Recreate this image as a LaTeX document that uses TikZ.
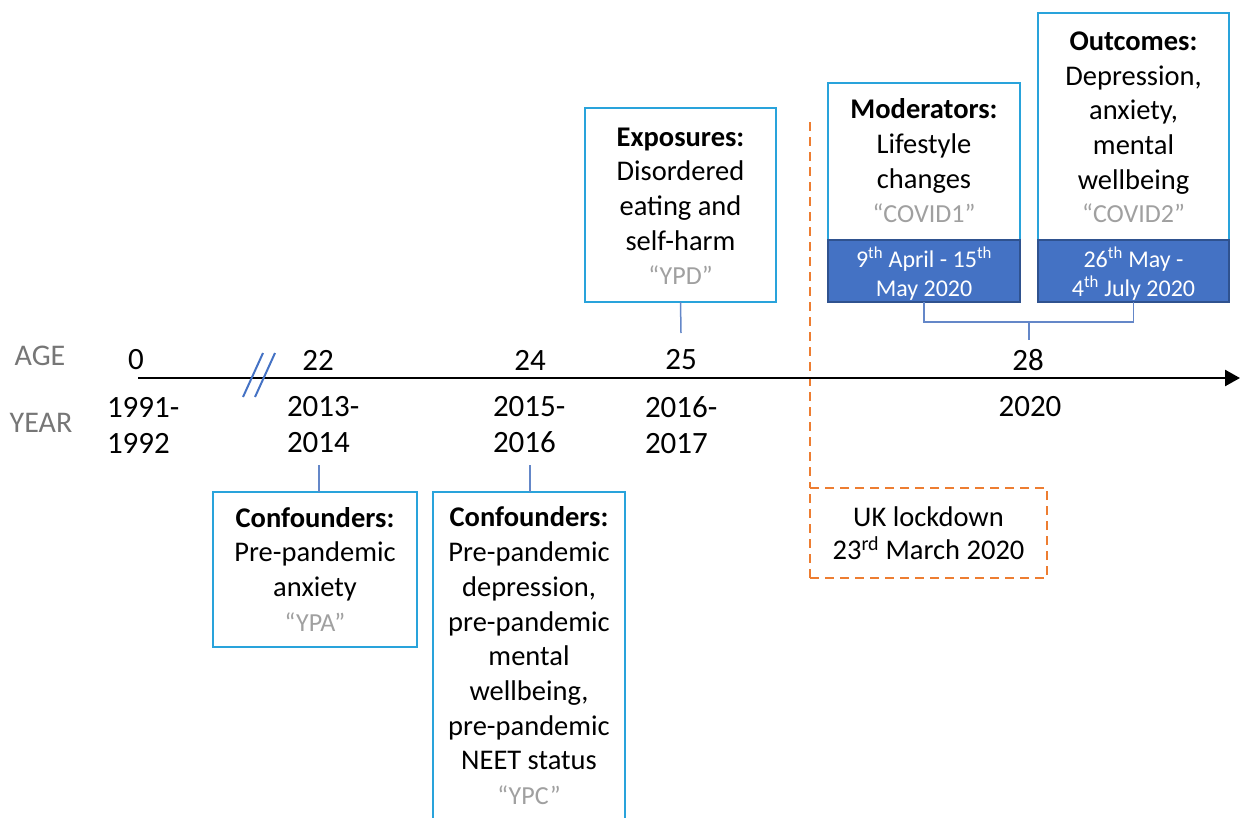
\documentclass[tikz,border=0pt]{standalone}
\usepackage{fontspec}
\setmainfont{Carlito}
\usetikzlibrary{arrows.meta}
\definecolor{boxblue}{RGB}{41,163,219}
\definecolor{connblue}{RGB}{100,135,200}
\definecolor{bandblue}{RGB}{68,114,196}
\definecolor{bandedge}{RGB}{47,82,143}
\definecolor{lockorange}{RGB}{237,125,49}
\definecolor{axislabel}{RGB}{118,118,118}
\definecolor{codegray}{RGB}{160,160,160}
\definecolor{slashblue}{RGB}{68,114,196}
\begin{document}
\begin{tikzpicture}[x=1pt,y=-1pt,
  every node/.style={inner sep=0pt, outer sep=0pt},
  mainbox/.style={draw=boxblue, line width=2.5pt, fill=white},
  band/.style={draw=bandedge, fill=bandblue, line width=1.2pt},
  conn/.style={draw=connblue, line width=1.5pt},
  txt/.style={align=center, font=\fontsize{28.5}{34.7}\selectfont},
  code/.style={text=codegray, font=\fontsize{26}{31}\selectfont},
  bandtxt/.style={align=center, text=white, font=\fontsize{24}{29}\selectfont},
  age/.style={font=\fontsize{31}{36}\selectfont},
  year/.style={align=left, font=\fontsize{31}{36}\selectfont, anchor=west},
  rowlabel/.style={text=axislabel, font=\fontsize{30}{36}\selectfont},
  lockline/.style={draw=lockorange, line width=2.2pt, dash pattern=on 9pt off 6pt}]

\useasboundingbox (0,0) rectangle (1241,817);
\clip (0,0) rectangle (1241,817);

% lockdown marker
\coordinate (ltop) at (810,122);
\node[lockline, minimum width=237pt, minimum height=90pt, align=center,
      font=\fontsize{28.5}{33}\selectfont] (lock) at (928.5,533)
  {UK lockdown\\23\textsuperscript{rd} March 2020};
\draw[lockline] (ltop) -- (lock.north west);

% axis
\coordinate (axL) at (138,378);
\coordinate (axR) at (1240,378);
\draw[line width=2.5pt, -{Triangle[length=15pt,width=16pt]}] (axL) -- (axR);
\draw[slashblue, line width=2pt] (243,397) -- (263,353);
\draw[slashblue, line width=2pt] (255,397) -- (275,353);

% row labels
\node[rowlabel] (agelbl) at (40,356) {AGE};
\node[rowlabel] (yearlbl) at (41,423) {YEAR};

% ages
\node[age] (a0) at (136,360) {0};
\node[age] (a22) at (318,360) {22};
\node[age] (a24) at (530,360) {24};
\node[age] (a25) at (681,360) {25};
\node[age] (a28) at (1028,360) {28};

% years
\node[year] (y0) at (107,425) {1991-\\1992};
\node[year] (y22) at (287,425) {2013-\\2014};
\node[year] (y24) at (493,425) {2015-\\2016};
\node[year] (y25) at (645,425) {2016-\\2017};
\node[age] (y28) at (1030,407) {2020};

% boxes
\node[mainbox, minimum width=191pt, minimum height=194pt] (expo) at (680.5,205) {};
\node[mainbox, minimum width=192pt, minimum height=157pt] (modW) at (924,161.5) {};
\node[band, minimum width=192pt, minimum height=62pt] (modB) at (924,271) {};
\node[mainbox, minimum width=191pt, minimum height=227pt] (outW) at (1133.5,126.5) {};
\node[band, minimum width=191pt, minimum height=62pt] (outB) at (1133.5,271) {};
\node[mainbox, minimum width=204pt, minimum height=155pt] (conf1) at (315,569.5) {};
\node[mainbox, minimum width=192pt, minimum height=340pt] (conf2) at (529,662) {};

% connectors
\coordinate (c25) at (681,333);
\draw[conn] (expo.south) -- (c25);
\coordinate (c22) at (319,465);
\draw[conn] (c22) -- (c22 |- conf1.north);
\coordinate (c24) at (530,465);
\draw[conn] (c24) -- (c24 |- conf2.north);
\coordinate (br) at (1029,322);
\coordinate (c28) at (1029,340);
\draw[conn] (modB.south) |- (br) -| (outB.south);
\draw[conn] (br) -- (c28);

% texts
\node[txt] (expoT) at (680.5,189) {\textbf{Exposures:}\\Disordered\\eating and\\self-harm};
\node[code] (expoC) at (680.5,275) {“YPD”};
\node[txt] (modT) at (924,146) {\textbf{Moderators:}\\Lifestyle\\changes};
\node[code] (modC) at (924,213) {“COVID1”};
\node[txt] (outT) at (1133.5,113) {\textbf{Outcomes:}\\Depression,\\anxiety,\\mental\\wellbeing};
\node[code] (outC) at (1133.5,213) {“COVID2”};
\node[bandtxt] (modD) at (924,274) {9\textsuperscript{th} April - 15\textsuperscript{th}\\May 2020};
\node[bandtxt] (outD) at (1133.5,274) {26\textsuperscript{th} May -\\4\textsuperscript{th} July 2020};
\node[txt] (conf1T) at (315,554) {\textbf{Confounders:}\\Pre-pandemic\\anxiety};
\node[code] (conf1C) at (315,622) {“YPA”};
\node[txt] (conf2T) at (529,638.5) {\textbf{Confounders:}\\Pre-pandemic\\depression,\\pre-pandemic\\mental\\wellbeing,\\pre-pandemic\\NEET status};
\node[code] (conf2C) at (529,795) {“YPC”};
\end{tikzpicture}
\end{document}
